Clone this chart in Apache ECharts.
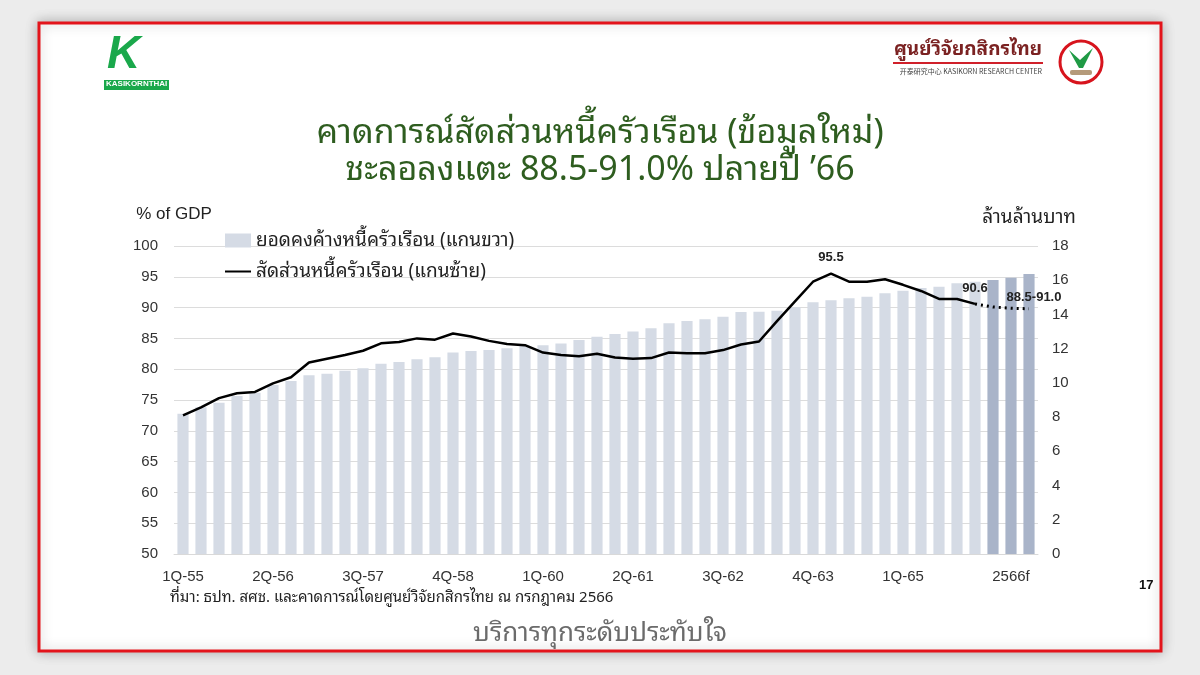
<!DOCTYPE html>
<html lang="th">
<head>
<meta charset="UTF-8">
<title>หนี้ครัวเรือน</title>
<script src="https://cdn.jsdelivr.net/npm/echarts@6/dist/echarts.min.js"></script>
<style>
  html, body { margin: 0; padding: 0; background: #ececec; }
  #main { width: 1200px; height: 675px; }
</style>
</head>
<body>
<div id="main"></div>
<script type="text/javascript">
// ไตรมาส (พ.ศ.) + 3 ไตรมาสคาดการณ์
var categories = [
  '1Q-55','2Q-55','3Q-55','4Q-55','1Q-56','2Q-56','3Q-56','4Q-56',
  '1Q-57','2Q-57','3Q-57','4Q-57','1Q-58','2Q-58','3Q-58','4Q-58',
  '1Q-59','2Q-59','3Q-59','4Q-59','1Q-60','2Q-60','3Q-60','4Q-60',
  '1Q-61','2Q-61','3Q-61','4Q-61','1Q-62','2Q-62','3Q-62','4Q-62',
  '1Q-63','2Q-63','3Q-63','4Q-63','1Q-64','2Q-64','3Q-64','4Q-64',
  '1Q-65','2Q-65','3Q-65','4Q-65','1Q-66','2Q-66f','3Q-66f','4Q-66f'
];
var tickIndex  = [0, 5, 10, 15, 20, 25, 30, 35, 40, 46];
var tickLabels = ['1Q-55','2Q-56','3Q-57','4Q-58','1Q-60','2Q-61','3Q-62','4Q-63','1Q-65','2566f'];

// ยอดคงค้างหนี้ครัวเรือน (ล้านล้านบาท, แกนขวา)
var debtOutstanding = [
  8.20, 8.57, 8.84, 9.23, 9.43, 9.88, 10.11, 10.44, 10.54, 10.71,
  10.85, 11.12, 11.22, 11.38, 11.50, 11.77, 11.86, 11.92, 12.02, 12.15,
  12.20, 12.30, 12.50, 12.70, 12.86, 13.00, 13.19, 13.48, 13.62, 13.72,
  13.87, 14.15, 14.16, 14.22, 14.42, 14.71, 14.83, 14.94, 15.03, 15.24,
  15.38, 15.55, 15.62, 15.82, 15.91, 16.01, 16.15, 16.37
];
var forecastStart = 45;

// สัดส่วนหนี้ครัวเรือนต่อ GDP (%, แกนซ้าย)
var debtRatio = [
  72.5, 73.8, 75.3, 76.1, 76.3, 77.7, 78.7, 81.1, 81.7, 82.3,
  83.0, 84.2, 84.4, 85.0, 84.8, 85.8, 85.3, 84.6, 84.1, 83.9,
  82.7, 82.3, 82.1, 82.5, 81.9, 81.7, 81.8, 82.7, 82.6, 82.6,
  83.1, 84.0, 84.5, 87.8, 91.0, 94.2, 95.5, 94.2, 94.2, 94.6,
  93.7, 92.7, 91.4, 91.4, 90.6
];
var ratioForecast = [90.6, 90.1, 89.9, 89.8];   // จาก 1Q-66 ถึงสิ้นปี '66
var forecastRangeText = '88.5-91.0';
var peakIndex = 36;

var thai = "'Noto Sans Thai Looped', 'Noto Sans Thai', 'Noto Sans', 'Liberation Sans', sans-serif";
var arial = "'Liberation Sans', Arial, sans-serif";

var barData = debtOutstanding.map(function (v, i) {
  return {
    value: v,
    itemStyle: { color: i >= forecastStart ? '#a9b4c9' : '#d5dbe5' }
  };
});

var lastIdx = debtRatio.length - 1;
var forecastData = [];
for (var i = 0; i < lastIdx; i++) forecastData.push(null);
ratioForecast.forEach(function (v) { forecastData.push(v); });
var forecastEnd = forecastData.length - 1;

var labelFont = { fontSize: 13, fontWeight: 'bold', color: '#222', fontFamily: arial };

var chart = echarts.init(document.getElementById('main'));

var option = {
  backgroundColor: '#ececec',
  animation: false,
  title: {
    text: 'คาดการณ์สัดส่วนหนี้ครัวเรือน (ข้อมูลใหม่)\nชะลอลงแตะ 88.5-91.0% ปลายปี ’66',
    left: 'center',
    top: 110,
    textStyle: {
      color: '#2e5d1f', fontSize: 34, fontWeight: 'normal',
      fontFamily: thai, lineHeight: 37
    }
  },
  legend: {
    data: [
      { name: 'ยอดคงค้างหนี้ครัวเรือน (แกนขวา)', icon: 'rect' },
      { name: 'สัดส่วนหนี้ครัวเรือน (แกนซ้าย)', itemStyle: { opacity: 0 } }
    ],
    orient: 'vertical',
    left: 219,
    top: 226,
    itemWidth: 26,
    itemHeight: 14,
    itemGap: 12,
    textStyle: { fontSize: 19, color: '#222', fontFamily: thai }
  },
  grid: { left: 174, right: 162, top: 246, bottom: 121, containLabel: false },
  xAxis: {
    type: 'category',
    data: categories,
    axisLine: { lineStyle: { color: '#d9d9d9', width: 1 } },
    axisTick: { show: false },
    axisLabel: {
      interval: 0,
      margin: 15,
      fontSize: 15,
      color: '#333',
      fontFamily: arial,
      formatter: function (val, idx) {
        var k = tickIndex.indexOf(idx);
        return k >= 0 ? tickLabels[k] : '';
      }
    }
  },
  yAxis: [
    {
      type: 'value',
      min: 50, max: 100, interval: 5,
      name: '% of GDP',
      nameGap: 23,
      nameTextStyle: { fontSize: 17, color: '#222', fontFamily: arial, padding: [0, 0, 0, 0] },
      axisLine: { show: false },
      axisTick: { show: false },
      axisLabel: { fontSize: 15, color: '#333', margin: 16, fontFamily: arial },
      splitLine: { lineStyle: { color: '#dcdcdc', width: 1 } }
    },
    {
      type: 'value',
      min: 0, max: 18, interval: 2,
      name: 'ล้านล้านบาท',
      nameGap: 19,
      nameTextStyle: { fontSize: 19, color: '#222', fontFamily: thai, padding: [0, 18, 0, 0] },
      axisLine: { show: false },
      axisTick: { show: false },
      axisLabel: { fontSize: 15, color: '#333', margin: 14, fontFamily: arial },
      splitLine: { show: false }
    }
  ],
  series: [
    {
      name: 'ยอดคงค้างหนี้ครัวเรือน (แกนขวา)',
      type: 'bar',
      yAxisIndex: 1,
      data: barData,
      barCategoryGap: '38%',
      itemStyle: { color: '#d5dbe5' },
      z: 1
    },
    {
      name: 'สัดส่วนหนี้ครัวเรือน (แกนซ้าย)',
      type: 'line',
      yAxisIndex: 0,
      data: debtRatio,
      symbol: 'none',
      lineStyle: { color: '#000', width: 2.5 },
      itemStyle: { color: '#000' },
      markPoint: {
        symbol: 'circle',
        symbolSize: 0,
        silent: true,
        label: labelFont,
        data: [
          { coord: [peakIndex, debtRatio[peakIndex]], value: debtRatio[peakIndex],
            label: { position: 'top', distance: 10 } },
          { coord: [lastIdx, debtRatio[lastIdx]], value: debtRatio[lastIdx],
            label: { position: 'top', distance: 9 } }
        ]
      },
      z: 3
    },
    {
      name: 'forecast',
      type: 'line',
      yAxisIndex: 0,
      data: forecastData,
      symbol: 'none',
      lineStyle: { color: '#000', width: 3, type: [2, 4] },
      itemStyle: { color: '#000' },
      markPoint: {
        symbol: 'circle',
        symbolSize: 0,
        silent: true,
        label: labelFont,
        data: [
          { coord: [forecastEnd, forecastData[forecastEnd]], value: forecastData[forecastEnd],
            label: { position: 'top', distance: 5, offset: [5, 0],
                     formatter: forecastRangeText } }
        ]
      },
      z: 3
    }
  ],
  graphic: [
    // กรอบสไลด์
    { type: 'rect', z: -10, shape: { x: 39, y: 23, width: 1122, height: 628 },
      style: { fill: '#fff', stroke: '#e3141b', lineWidth: 3,
               shadowBlur: 12, shadowColor: 'rgba(0,0,0,0.25)' } },
    // โลโก้ KASIKORNTHAI
    { type: 'text', z: 5, left: 107, top: 32,
      style: { text: 'K', fontSize: 46, fontWeight: 'bold', fontStyle: 'italic',
               fill: '#1aa84b', fontFamily: arial } },
    { type: 'rect', z: 5, shape: { x: 104, y: 80, width: 65, height: 10 },
      style: { fill: '#1aa84b' } },
    { type: 'text', z: 6, left: 106, top: 80,
      style: { text: 'KASIKORNTHAI', fontSize: 8, fontWeight: 'bold', fill: '#fff',
               fontFamily: arial } },
    // ศูนย์วิจัยกสิกรไทย
    { type: 'text', z: 5, right: 158, top: 40,
      style: { text: 'ศูนย์วิจัยกสิกรไทย', fontSize: 19, fontWeight: 'bold',
               fill: '#7b2222', fontFamily: thai } },
    { type: 'rect', z: 5, shape: { x: 893, y: 62, width: 150, height: 2 },
      style: { fill: '#d0202a' } },
    { type: 'text', z: 5, right: 158, top: 68,
      style: { text: '开泰研究中心 KASIKORN RESEARCH CENTER', fontSize: 7,
               fill: '#444', fontFamily: "'Noto Sans CJK SC', sans-serif" } },
    { type: 'circle', z: 5, shape: { cx: 1081, cy: 62, r: 21 },
      style: { fill: '#fff', stroke: '#d7141d', lineWidth: 3 } },
    { type: 'polygon', z: 6,
      shape: { points: [[1069, 50], [1080, 60], [1093, 48], [1083, 68], [1079, 68]] },
      style: { fill: '#1f9a45' } },
    { type: 'rect', z: 6, shape: { x: 1070, y: 70, width: 22, height: 5, r: 2 },
      style: { fill: '#b59a7a' } },
    // ที่มา
    { type: 'text', z: 5, left: 170, top: 590,
      style: { text: 'ที่มา: ธปท. สศช. และคาดการณ์โดยศูนย์วิจัยกสิกรไทย ณ กรกฎาคม 2566',
               fontSize: 15, fill: '#222', fontFamily: thai } },
    // เลขหน้า
    { type: 'text', z: 5, left: 1139, top: 579,
      style: { text: '17', fontSize: 13, fontWeight: 'bold', fill: '#111',
               fontFamily: arial } },
    // สโลแกน
    { type: 'text', z: 5, left: 'center', top: 621,
      style: { text: 'บริการทุกระดับประทับใจ', fontSize: 26, fill: '#6b6b6b',
               fontFamily: thai } }
  ]
};

chart.setOption(option);
</script>
</body>
</html>
